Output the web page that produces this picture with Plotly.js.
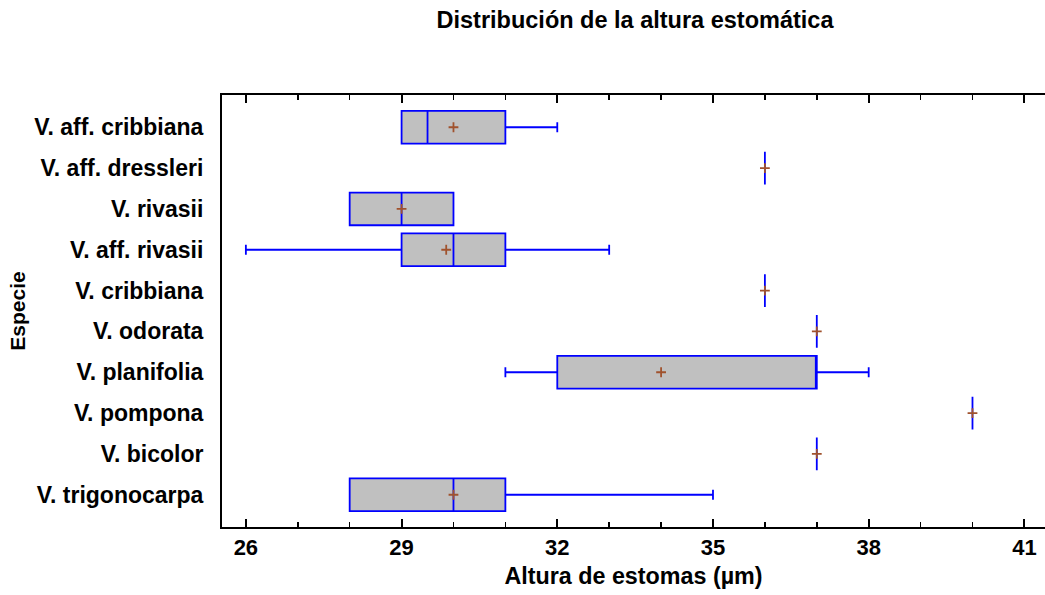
<!DOCTYPE html>
<html>
<head>
<meta charset="utf-8">
<script src="https://cdn.plot.ly/plotly-3.0.1.min.js"></script>
<style>
html, body { margin: 0; padding: 0; overflow: hidden; background: #fff; }
#chart { width: 1045px; height: 595px; }
</style>
</head>
<body>
<div id="chart"></div>
<script>
// Data
const species = ["V. aff. cribbiana", "V. aff. dressleri", "V. rivasii", "V. aff. rivasii", "V. cribbiana",
                 "V. odorata", "V. planifolia", "V. pompona", "V. bicolor", "V. trigonocarpa"];
const minValues    = [29,   36, 28, 26,    36, 37, 31, 40, 37, 28];
const q1Values     = [29,   36, 28, 29,    36, 37, 32, 40, 37, 28];
const medianValues = [29.5, 36, 29, 30,    36, 37, 37, 40, 37, 30];
const q3Values     = [31,   36, 30, 31,    36, 37, 37, 40, 37, 31];
const maxValues    = [32,   36, 30, 33,    36, 37, 38, 40, 37, 35];
const meanValues   = [30,   36, 29, 29.86, 36, 37, 34, 40, 37, 30];

const FONT = "Liberation Sans, Arial, Helvetica, sans-serif";

const boxTrace = {
  type: "box",
  orientation: "h",
  y: species,
  q1: q1Values,
  median: medianValues,
  q3: q3Values,
  lowerfence: minValues,
  upperfence: maxValues,
  boxpoints: false,
  width: 0.8,
  whiskerwidth: 0.3,
  fillcolor: "#c0c0c0",
  line: { color: "#0000ff", width: 1.8 },
  hoverinfo: "skip",
  showlegend: false
};

const meanTrace = {
  type: "scatter",
  mode: "markers",
  x: meanValues,
  y: species,
  marker: { symbol: "cross-thin", size: 7, line: { color: "#a0522d", width: 1.8 } },
  hoverinfo: "skip",
  showlegend: false
};

const layout = {
  width: 1045,
  height: 595,
  margin: { l: 222, r: 0, t: 95, b: 68 },
  paper_bgcolor: "#ffffff",
  plot_bgcolor: "#ffffff",
  font: { family: FONT, color: "#000000" },
  title: {
    text: "Distribución de la altura estomática",
    font: { family: FONT, size: 23.5, weight: "bold", color: "#000000" },
    x: 635 / 1045, xref: "container", xanchor: "center",
    y: 1 - 20 / 595, yref: "container", yanchor: "middle"
  },
  xaxis: {
    range: [25.54, 41.397],
    tick0: 26, dtick: 3,
    ticks: "inside", ticklen: 8, tickwidth: 2, tickcolor: "#000",
    minor: { dtick: 1, tick0: 26, ticks: "inside", ticklen: 5, tickwidth: 1.5, tickcolor: "#000", showgrid: false },
    showgrid: false, zeroline: false,
    showline: true, linewidth: 2, linecolor: "#000", mirror: "ticks",
    tickfont: { family: FONT, size: 22, weight: "bold", color: "#000" },
    title: { text: "Altura de estomas (µm)", standoff: 8,
             font: { family: FONT, size: 23.3, weight: "bold", color: "#000" } }
  },
  yaxis: {
    type: "category",
    categoryorder: "array",
    categoryarray: species.slice().reverse(),
    range: [-0.79, 9.79],
    ticks: "", showgrid: false, zeroline: false,
    showline: true, linewidth: 2, linecolor: "#000", mirror: false,
    ticklabelstandoff: 12,
    tickfont: { family: FONT, size: 23, weight: "bold", color: "#000" },
    title: { text: "Especie", standoff: 3,
             font: { family: FONT, size: 21, weight: "bold", color: "#000" } }
  }
};

Plotly.newPlot("chart", [boxTrace, meanTrace], layout, { displayModeBar: false, staticPlot: true });
</script>
</body>
</html>
